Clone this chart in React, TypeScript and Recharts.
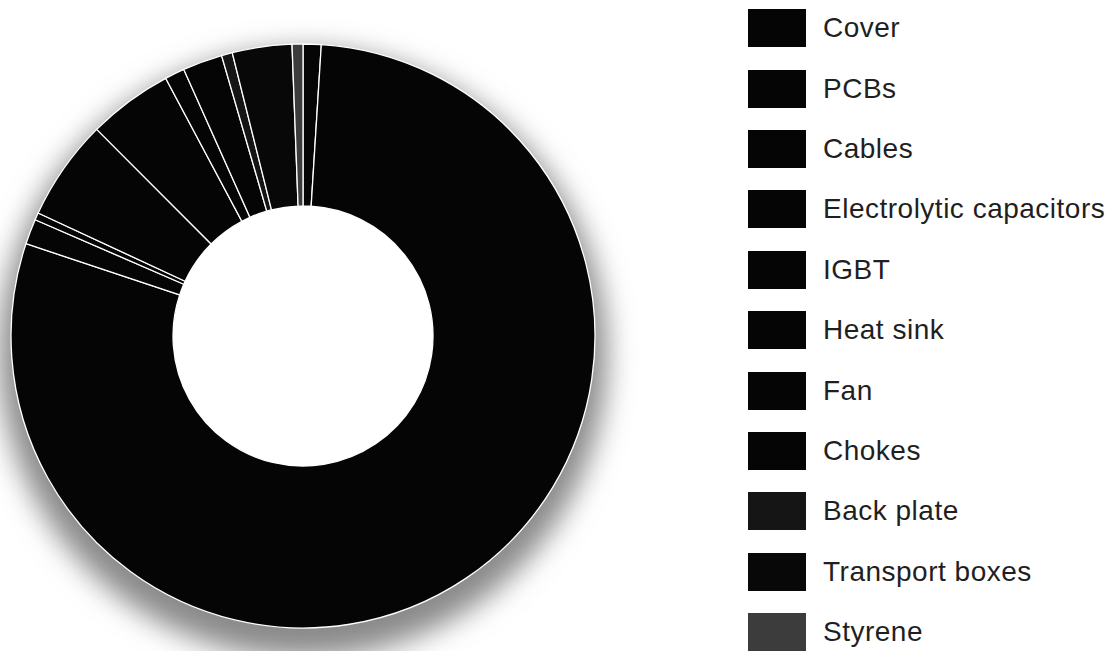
import { PieChart, Pie, Cell, Legend } from "recharts";

// Components, in legend order (pie runs clockwise from 12 o'clock)
const parts = [
  "Cover",
  "PCBs",
  "Cables",
  "Electrolytic capacitors",
  "IGBT",
  "Heat sink",
  "Fan",
  "Chokes",
  "Back plate",
  "Transport boxes",
  "Styrene",
];

// Share of total, %
const shares = [1.0, 79.2, 1.4, 0.4, 5.6, 4.7, 1.1, 2.2, 0.6, 3.3, 0.6];

const swatches = [
  "#050505",
  "#050505",
  "#050505",
  "#050505",
  "#050505",
  "#050505",
  "#050505",
  "#050505",
  "#151515",
  "#080808",
  "#3c3c3c",
];

const data = parts.map((name, i) => ({ name, value: shares[i] }));
const shadowData = [{ name: "shadow", value: 100 }];

const renderLegend = () => (
  <div style={{ fontFamily: "'Liberation Sans', Arial, sans-serif" }}>
    {parts.map((name, i) => (
      <div
        key={name}
        style={{ height: 60.4, display: "flex", alignItems: "center" }}
      >
        <div
          style={{
            width: 58,
            height: 38,
            background: swatches[i],
            marginRight: 17,
            flex: "none",
          }}
        />
        <span
          style={{
            fontSize: 28,
            letterSpacing: 0.5,
            color: "#1f1f1f",
            whiteSpace: "nowrap",
          }}
        >
          {name}
        </span>
      </div>
    ))}
  </div>
);

export default function App() {
  return (
    <div
      style={{
        position: "absolute",
        left: 0,
        top: 0,
        width: 1114,
        height: 651,
        background: "#fff",
        overflow: "hidden",
      }}
    >
      <svg width={0} height={0} style={{ position: "absolute" }}>
        <defs>
          <filter id="ringShadow" x="-20%" y="-20%" width="140%" height="140%">
            <feGaussianBlur stdDeviation="14" />
          </filter>
        </defs>
      </svg>
      <PieChart width={1114} height={651} margin={{ top: 0, right: 0, bottom: 0, left: 0 }}>
        {/* soft shadow under the ring */}
        <Pie
          data={shadowData}
          dataKey="value"
          cx={303}
          cy={354}
          innerRadius={220}
          outerRadius={304}
          startAngle={90}
          endAngle={-270}
          stroke="none"
          isAnimationActive={false}
          legendType="none"
        >
          <Cell fill="#8a8a8a" filter="url(#ringShadow)" />
        </Pie>
        <Pie
          data={data}
          dataKey="value"
          nameKey="name"
          cx={303}
          cy={336}
          innerRadius={130}
          outerRadius={292}
          startAngle={90}
          endAngle={-270}
          stroke="#ffffff"
          strokeWidth={1.3}
          isAnimationActive={false}
        >
          {data.map((d, i) => (
            <Cell key={d.name} fill={swatches[i]} />
          ))}
        </Pie>
        <Legend
          content={renderLegend}
          layout="vertical"
          verticalAlign="top"
          align="right"
          wrapperStyle={{ left: 748, top: -2, width: 366 }}
        />
      </PieChart>
    </div>
  );
}
